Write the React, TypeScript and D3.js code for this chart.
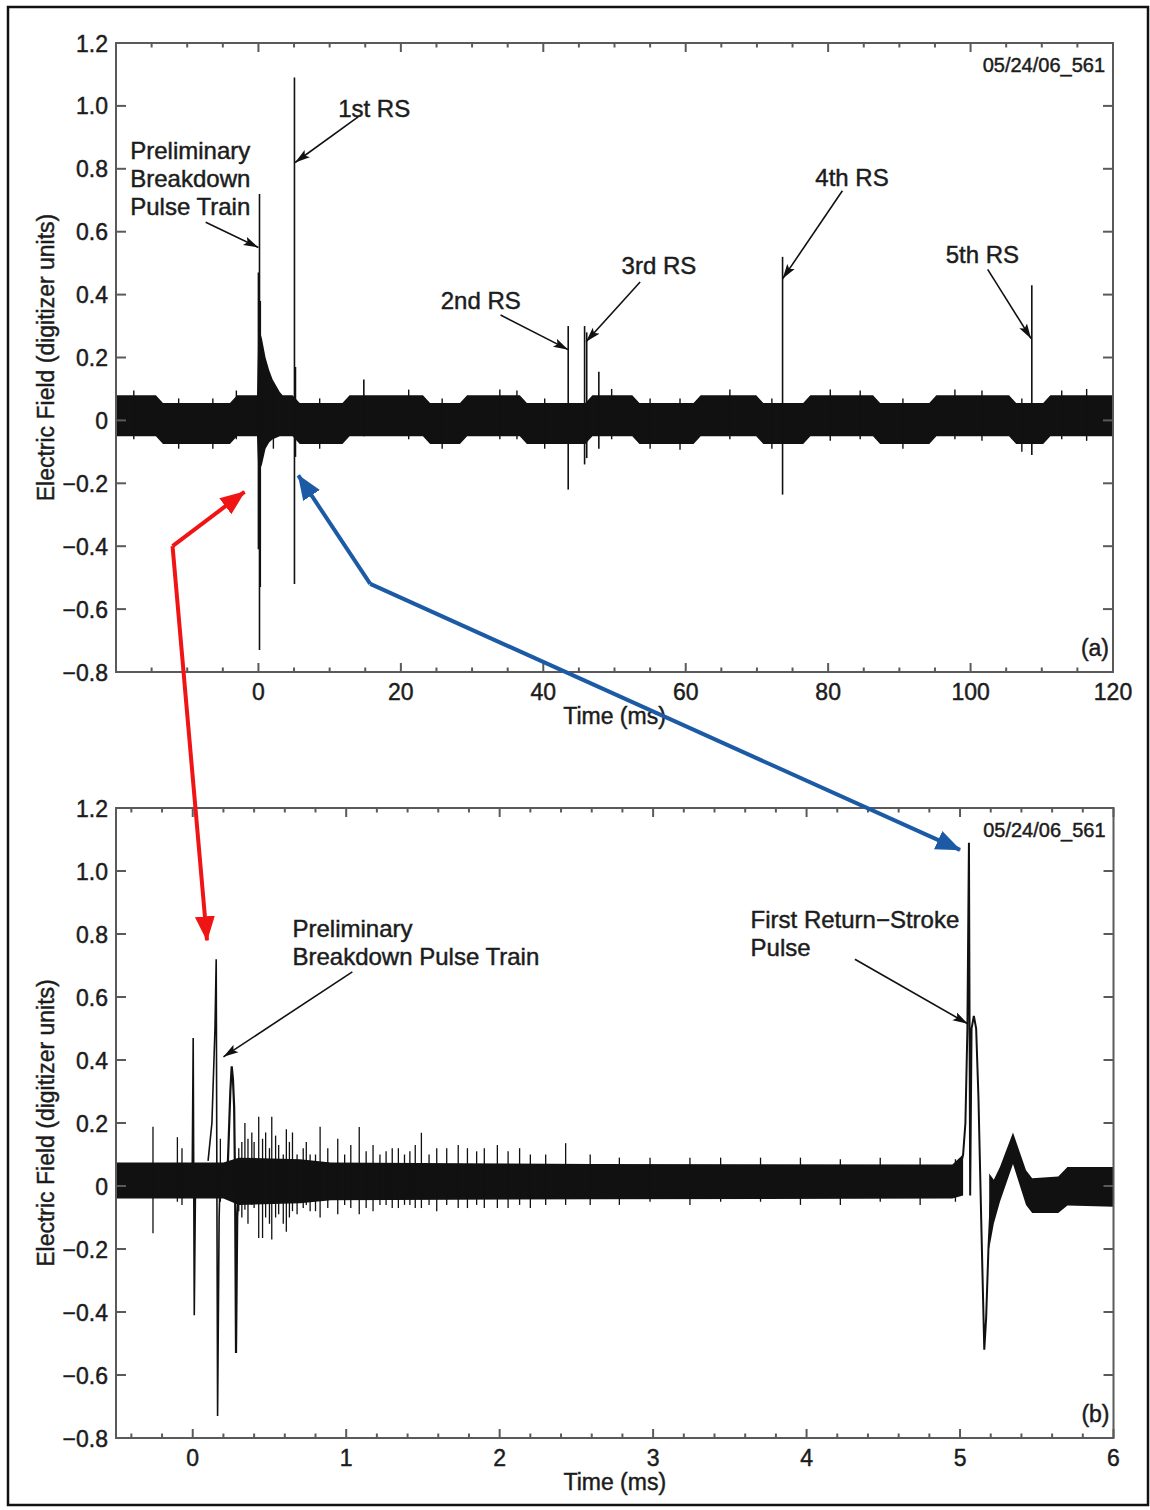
import React from 'react';
import * as d3 from 'd3';

const W = 1150;
const H = 1510;
const FONT = '"Liberation Sans", Arial, Helvetica, sans-serif';

// ---------- shared axis data ----------
const yTicks = [-0.8, -0.6, -0.4, -0.2, 0, 0.2, 0.4, 0.6, 0.8, 1.0, 1.2];
const yTickLabels = ['−0.8', '−0.6', '−0.4', '−0.2', '0', '0.2', '0.4', '0.6', '0.8', '1.0', '1.2'];
const yLabel = 'Electric Field (digitizer units)';
const xLabel = 'Time (ms)';
const recordId = '05/24/06_561';

// ---------- panel (a) ----------
const aDomain = [-20, 120];
const aMajor = [0, 20, 40, 60, 80, 100, 120];
const aMinor = [-15, -10, -5, 5, 10, 15, 25, 30, 35, 45, 50, 55, 65, 70, 75, 85, 90, 95, 105, 110, 115];
// noise band envelope: time (ms), upper, lower
const aBandT = [-20, -14.4, -13.4, -4.0, -3.0, -0.2, 0, 0.5, 1.0, 1.5, 2.0, 2.5, 3.0, 3.4, 4.8, 5.8, 11.8, 12.8, 23.1, 24.1, 28.3, 29.3, 36.7, 37.7, 45.9, 46.9, 52.5, 53.5, 61.1, 62.1, 69.9, 70.9, 76.5, 77.5, 86.3, 87.3, 94.2, 95.2, 105.4, 106.4, 110.2, 111.2, 120];
const aBandHi = [0.08, 0.08, 0.055, 0.055, 0.08, 0.08, 0.3, 0.26, 0.2, 0.16, 0.13, 0.11, 0.09, 0.08, 0.08, 0.055, 0.055, 0.08, 0.08, 0.055, 0.055, 0.08, 0.08, 0.055, 0.055, 0.08, 0.08, 0.055, 0.055, 0.08, 0.08, 0.055, 0.055, 0.08, 0.08, 0.055, 0.055, 0.08, 0.08, 0.055, 0.055, 0.08, 0.08];
const aBandLo = [-0.05, -0.05, -0.075, -0.075, -0.05, -0.05, -0.17, -0.14, -0.09, -0.07, -0.06, -0.055, -0.05, -0.05, -0.05, -0.075, -0.075, -0.05, -0.05, -0.075, -0.075, -0.05, -0.05, -0.075, -0.075, -0.05, -0.05, -0.075, -0.075, -0.05, -0.05, -0.075, -0.075, -0.05, -0.05, -0.075, -0.075, -0.05, -0.05, -0.075, -0.075, -0.05, -0.05];
// pulses: time (ms), max, min
const aSpikeT = [0.0, 0.15, 0.26, 5.06, 5.2, 14.8, 43.5, 45.8, 46.1, 47.8, 73.6, 108.6];
const aSpikeHi = [0.47, 0.72, 0.38, 1.09, 0.17, 0.13, 0.30, 0.30, 0.28, 0.155, 0.52, 0.43];
const aSpikeLo = [-0.41, -0.73, -0.53, -0.52, -0.116, -0.05, -0.22, -0.14, -0.12, -0.09, -0.236, -0.11];
// small noise excursions beyond the band
const aNoiseT = [-17.5, -11.2, -6.4, -3.1, 2.1, 8.6, 21.1, 25.8, 33.9, 36.3, 40.2, 49.6, 55.0, 59.2, 66.2, 72.1, 80.3, 84.5, 90.5, 97.8, 101.6, 107.2, 112.8, 116.3];
const aNoiseHi = [0.095, 0.07, 0.07, 0.095, 0.11, 0.07, 0.098, 0.07, 0.098, 0.095, 0.07, 0.1, 0.07, 0.07, 0.098, 0.07, 0.098, 0.095, 0.07, 0.098, 0.095, 0.07, 0.095, 0.1];
const aNoiseLo = [-0.06, -0.09, -0.09, -0.06, -0.09, -0.09, -0.06, -0.09, -0.06, -0.06, -0.09, -0.06, -0.09, -0.093, -0.06, -0.09, -0.065, -0.06, -0.09, -0.06, -0.065, -0.1, -0.06, -0.065];

// ---------- panel (b) ----------
const bDomain = [-0.5, 6];
const bMajor = [0, 1, 2, 3, 4, 5, 6];
const bMinor = [-0.4, -0.2, 0.2, 0.4, 0.6, 0.8, 1.2, 1.4, 1.6, 1.8, 2.2, 2.4, 2.6, 2.8, 3.2, 3.4, 3.6, 3.8, 4.2, 4.4, 4.6, 4.8, 5.2, 5.4, 5.6, 5.8];
const bBand1T = [-0.5, 0.2, 0.3, 0.7, 0.9, 2.6, 4.95, 5.02];
const bBand1Hi = [0.075, 0.075, 0.09, 0.085, 0.075, 0.07, 0.068, 0.1];
const bBand1Lo = [-0.04, -0.04, -0.06, -0.055, -0.045, -0.042, -0.04, -0.03];
const bBand2T = [5.19, 5.22, 5.26, 5.345, 5.43, 5.47, 5.64, 5.70, 6.0];
const bBand2Hi = [0.04, 0.02, 0.06, 0.17, 0.05, 0.025, 0.03, 0.06, 0.06];
const bBand2Lo = [-0.2, -0.12, -0.05, 0.07, -0.06, -0.086, -0.086, -0.062, -0.066];
const bSpikeT = [-0.259, -0.1, -0.07, 0.18, 0.30, 0.32, 0.34, 0.36, 0.385, 0.40, 0.43, 0.455, 0.475, 0.50, 0.515, 0.54, 0.56, 0.59, 0.61, 0.63, 0.65, 0.68, 0.72, 0.74, 0.765, 0.80, 0.83, 0.88, 0.945, 0.99, 1.03, 1.085, 1.13, 1.175, 1.22, 1.26, 1.30, 1.34, 1.38, 1.415, 1.45, 1.49, 1.54, 1.59, 1.655, 1.73, 1.79, 1.85, 1.9, 1.985, 2.055, 2.13, 2.2, 2.3, 2.43, 2.59, 2.78, 2.98, 3.24, 3.44, 3.7, 3.96, 4.22, 4.48, 4.74, 4.97];
const bSpikeHi = [0.188, 0.155, 0.12, 0.15, 0.12, 0.14, 0.2, 0.15, 0.17, 0.14, 0.22, 0.15, 0.17, 0.12, 0.22, 0.16, 0.13, 0.1, 0.18, 0.14, 0.17, 0.1, 0.12, 0.14, 0.1, 0.1, 0.188, 0.12, 0.15, 0.1, 0.13, 0.187, 0.11, 0.13, 0.1, 0.11, 0.12, 0.12, 0.1, 0.11, 0.13, 0.169, 0.1, 0.12, 0.12, 0.13, 0.12, 0.11, 0.12, 0.13, 0.11, 0.12, 0.1, 0.1, 0.136, 0.1, 0.09, 0.09, 0.09, 0.09, 0.09, 0.09, 0.085, 0.09, 0.09, 0.085];
const bSpikeLo = [-0.15, -0.05, -0.06, -0.05, -0.08, -0.1, -0.075, -0.12, -0.06, -0.07, -0.165, -0.165, -0.1, -0.12, -0.17, -0.1, -0.09, -0.12, -0.145, -0.1, -0.08, -0.09, -0.07, -0.06, -0.08, -0.08, -0.1, -0.07, -0.09, -0.06, -0.07, -0.09, -0.07, -0.08, -0.06, -0.06, -0.07, -0.07, -0.06, -0.06, -0.07, -0.07, -0.06, -0.08, -0.06, -0.07, -0.07, -0.06, -0.07, -0.07, -0.07, -0.06, -0.07, -0.06, -0.06, -0.06, -0.06, -0.05, -0.06, -0.05, -0.05, -0.06, -0.06, -0.05, -0.06, -0.05];
// large pulse waveforms (time ms, value)
const bPulse1T = [-0.004, 0.003, 0.010, 0.018];
const bPulse1V = [0.0, 0.47, -0.41, 0.0];
const bPulse2T = [0.10, 0.125, 0.145, 0.153, 0.162, 0.172, 0.18];
const bPulse2V = [0.08, 0.2, 0.5, 0.72, -0.73, -0.1, 0.05];
const bPulse3T = [0.228, 0.245, 0.254, 0.262, 0.270, 0.276, 0.282, 0.29, 0.30];
const bPulse3V = [0.06, 0.3, 0.38, 0.34, 0.25, 0.0, -0.53, -0.1, 0.0];
const bRsT = [5.0, 5.02, 5.035, 5.048, 5.058, 5.066, 5.075, 5.09, 5.105, 5.12, 5.14, 5.158, 5.17, 5.185, 5.2];
const bRsV = [0.06, 0.1, 0.2, 0.5, 1.09, -0.03, 0.5, 0.54, 0.5, 0.28, -0.15, -0.52, -0.42, -0.2, -0.05];

// ---------- annotations (data coordinates of each panel) ----------
const aNotes = [
  { lines: ['Preliminary', 'Breakdown', 'Pulse Train'], tx: -18, ty: 0.83, from: [-7.4, 0.63], to: [0.0, 0.55] },
  { lines: ['1st RS'], tx: 11.2, ty: 0.965, from: [14, 0.965], to: [5.15, 0.82] },
  { lines: ['2nd RS'], tx: 25.6, ty: 0.354, from: [34, 0.335], to: [43.5, 0.225] },
  { lines: ['3rd RS'], tx: 51.0, ty: 0.465, from: [53.6, 0.44], to: [46.0, 0.25] },
  { lines: ['4th RS'], tx: 78.2, ty: 0.745, from: [82, 0.73], to: [73.6, 0.45] },
  { lines: ['5th RS'], tx: 96.5, ty: 0.5, from: [102.4, 0.48], to: [108.5, 0.26] },
];
const bNotes = [
  { lines: ['Preliminary', 'Breakdown Pulse Train'], tx: 0.65, ty: 0.79, from: [1.04, 0.68], to: [0.2, 0.41] },
  { lines: ['First Return−Stroke', 'Pulse'], tx: 3.635, ty: 0.82, from: [4.315, 0.72], to: [5.05, 0.515] },
];
// red arrow: panel a tip, elbow (panel a), panel b tip
const redTipA = [-1.96, -0.227];
const redElbowA = [-12.06, -0.4];
const redTipB = [0.093, 0.78];
const blueTipA = [5.6, -0.175];
const blueElbowA = [15.7, -0.52];
const blueTipB = [5.0, 1.067];

const xA = d3.scaleLinear().domain(aDomain).range([116, 1113]);
const yA = d3.scaleLinear().domain([-0.8, 1.2]).range([672, 43]);
const xB = d3.scaleLinear().domain(bDomain).range([116, 1113.5]);
const yB = d3.scaleLinear().domain([-0.8, 1.2]).range([1438, 808]);

type Sc = d3.ScaleLinear<number, number>;

const TXT = '#1c1c1c';
const textStyle = { fontFamily: FONT, fill: TXT, stroke: TXT, strokeWidth: 0.45 } as const;

function Frame({ x, y, major, minor, tag }: { x: Sc; y: Sc; major: number[]; minor: number[]; tag: string }) {
  const [x0, x1] = x.range();
  const [y0, y1] = y.range(); // y0 bottom, y1 top
  const axisColor = '#5a5a5a';
  return (
    <g>
      <rect x={x0} y={y1} width={x1 - x0} height={y0 - y1} fill="none" stroke={axisColor} strokeWidth={2} />
      {yTicks.map((v) => (
        <g key={'y' + v}>
          <line x1={x0} x2={x0 + 10} y1={y(v)} y2={y(v)} stroke={axisColor} strokeWidth={2} />
          <line x1={x1 - 10} x2={x1} y1={y(v)} y2={y(v)} stroke={axisColor} strokeWidth={2} />
        </g>
      ))}
      {yTicks.map((v, i) => (
        <text key={'yl' + v} x={x0 - 8} y={y(v) + 8.5} textAnchor="end" fontSize={23} style={textStyle}>
          {yTickLabels[i]}
        </text>
      ))}
      {major.map((v) => (
        <g key={'xm' + v}>
          <line x1={x(v)} x2={x(v)} y1={y0} y2={y0 - 9} stroke={axisColor} strokeWidth={2} />
          <line x1={x(v)} x2={x(v)} y1={y1} y2={y1 + 9} stroke={axisColor} strokeWidth={2} />
          <text x={x(v)} y={y0 + 28} textAnchor="middle" fontSize={23} style={textStyle}>
            {v}
          </text>
        </g>
      ))}
      {minor.map((v) => (
        <g key={'xn' + v}>
          <line x1={x(v)} x2={x(v)} y1={y0} y2={y0 - 4.5} stroke={axisColor} strokeWidth={2} />
          <line x1={x(v)} x2={x(v)} y1={y1} y2={y1 + 4.5} stroke={axisColor} strokeWidth={2} />
        </g>
      ))}
      <text x={(x0 + x1) / 2} y={y0 + 52} textAnchor="middle" fontSize={23} style={textStyle}>
        {xLabel}
      </text>
      <text transform={`translate(54, ${(y0 + y1) / 2}) rotate(-90)`} textAnchor="middle" fontSize={23} style={textStyle}>
        {yLabel}
      </text>
      <text x={x1 - 8} y={y1 + 29} textAnchor="end" fontSize={20} style={textStyle}>
        {recordId}
      </text>
      <text x={x1 - 4} y={y0 - 16} textAnchor="end" fontSize={23} style={textStyle}>
        {tag}
      </text>
    </g>
  );
}

function bandPath(x: Sc, y: Sc, T: number[], Hi: number[], Lo: number[]) {
  const pts = T.map((t, i) => ({ t, hi: Hi[i], lo: Lo[i] }));
  return d3
    .area<{ t: number; hi: number; lo: number }>()
    .x((d) => x(d.t))
    .y0((d) => y(d.lo))
    .y1((d) => y(d.hi))(pts) as string;
}

function wavePath(x: Sc, y: Sc, T: number[], V: number[]) {
  const pts = T.map((t, i) => [t, V[i]] as [number, number]);
  return d3
    .line<[number, number]>()
    .x((d) => x(d[0]))
    .y((d) => y(d[1]))(pts) as string;
}

function Spikes({ x, y, T, Hi, Lo, w }: { x: Sc; y: Sc; T: number[]; Hi: number[]; Lo: number[]; w: number }) {
  return (
    <g>
      {T.map((t, i) => (
        <line key={i} x1={x(t)} x2={x(t)} y1={y(Hi[i])} y2={y(Lo[i])} stroke="#111" strokeWidth={w} />
      ))}
    </g>
  );
}

function Notes({ x, y, notes }: { x: Sc; y: Sc; notes: typeof aNotes }) {
  return (
    <g>
      {notes.map((n, i) => (
        <g key={i}>
          {n.lines.map((l, j) => (
            <text key={j} x={x(n.tx)} y={y(n.ty) + j * 28} fontSize={24} style={textStyle}>
              {l}
            </text>
          ))}
          <line
            x1={x(n.from[0])}
            y1={y(n.from[1])}
            x2={x(n.to[0])}
            y2={y(n.to[1])}
            stroke="#111"
            strokeWidth={1.6}
            markerEnd="url(#blackHead)"
          />
        </g>
      ))}
    </g>
  );
}

export default function App() {
  const red = '#f01414';
  const blue = '#1c5aa6';
  return (
    <div style={{ position: 'absolute', left: 0, top: 0 }}>
      <svg width={W} height={H} viewBox={`0 0 ${W} ${H}`} style={{ display: 'block', background: '#fff' }}>
        <defs>
          <marker id="blackHead" markerUnits="userSpaceOnUse" markerWidth={16} markerHeight={10} refX={15} refY={5} orient="auto">
            <path d="M0,0.5 L15,5 L0,9.5 L3,5 z" fill="#111" />
          </marker>
          <marker id="redHead" markerUnits="userSpaceOnUse" markerWidth={26} markerHeight={22} refX={24} refY={11} orient="auto">
            <path d="M0,1 L25,11 L0,21 z" fill={red} />
          </marker>
          <marker id="blueHead" markerUnits="userSpaceOnUse" markerWidth={26} markerHeight={22} refX={24} refY={11} orient="auto">
            <path d="M0,1 L25,11 L0,21 z" fill={blue} />
          </marker>
        </defs>
        <rect x={0} y={0} width={W} height={H} fill="#fff" />
        <rect x={8} y={7} width={1140} height={1498} fill="none" stroke="#111" strokeWidth={2.5} />

        {/* panel (a) */}
        <path d={bandPath(xA, yA, aBandT, aBandHi, aBandLo)} fill="#111" />
        <Spikes x={xA} y={yA} T={aNoiseT} Hi={aNoiseHi} Lo={aNoiseLo} w={1.4} />
        <Spikes x={xA} y={yA} T={aSpikeT} Hi={aSpikeHi} Lo={aSpikeLo} w={1.6} />
        <Frame x={xA} y={yA} major={aMajor} minor={aMinor} tag="(a)" />
        <Notes x={xA} y={yA} notes={aNotes} />

        {/* panel (b) */}
        <path d={bandPath(xB, yB, bBand1T, bBand1Hi, bBand1Lo)} fill="#111" />
        <path d={bandPath(xB, yB, bBand2T, bBand2Hi, bBand2Lo)} fill="#111" />
        <Spikes x={xB} y={yB} T={bSpikeT} Hi={bSpikeHi} Lo={bSpikeLo} w={1.3} />
        <path d={wavePath(xB, yB, bPulse1T, bPulse1V)} fill="none" stroke="#111" strokeWidth={1.6} />
        <path d={wavePath(xB, yB, bPulse2T, bPulse2V)} fill="none" stroke="#111" strokeWidth={1.6} />
        <path d={wavePath(xB, yB, bPulse3T, bPulse3V)} fill="none" stroke="#111" strokeWidth={2.2} />
        <path d={wavePath(xB, yB, bRsT, bRsV)} fill="none" stroke="#111" strokeWidth={2} />
        <Frame x={xB} y={yB} major={bMajor} minor={bMinor} tag="(b)" />
        <Notes x={xB} y={yB} notes={bNotes as any} />

        {/* linking arrows */}
        <line x1={xA(redElbowA[0])} y1={yA(redElbowA[1])} x2={xA(redTipA[0])} y2={yA(redTipA[1])} stroke={red} strokeWidth={4} markerEnd="url(#redHead)" />
        <line x1={xA(redElbowA[0])} y1={yA(redElbowA[1])} x2={xB(redTipB[0])} y2={yB(redTipB[1])} stroke={red} strokeWidth={4} markerEnd="url(#redHead)" />
        <line x1={xA(blueElbowA[0])} y1={yA(blueElbowA[1])} x2={xA(blueTipA[0])} y2={yA(blueTipA[1])} stroke={blue} strokeWidth={4} markerEnd="url(#blueHead)" />
        <line x1={xA(blueElbowA[0])} y1={yA(blueElbowA[1])} x2={xB(blueTipB[0])} y2={yB(blueTipB[1])} stroke={blue} strokeWidth={4} markerEnd="url(#blueHead)" />
      </svg>
    </div>
  );
}
